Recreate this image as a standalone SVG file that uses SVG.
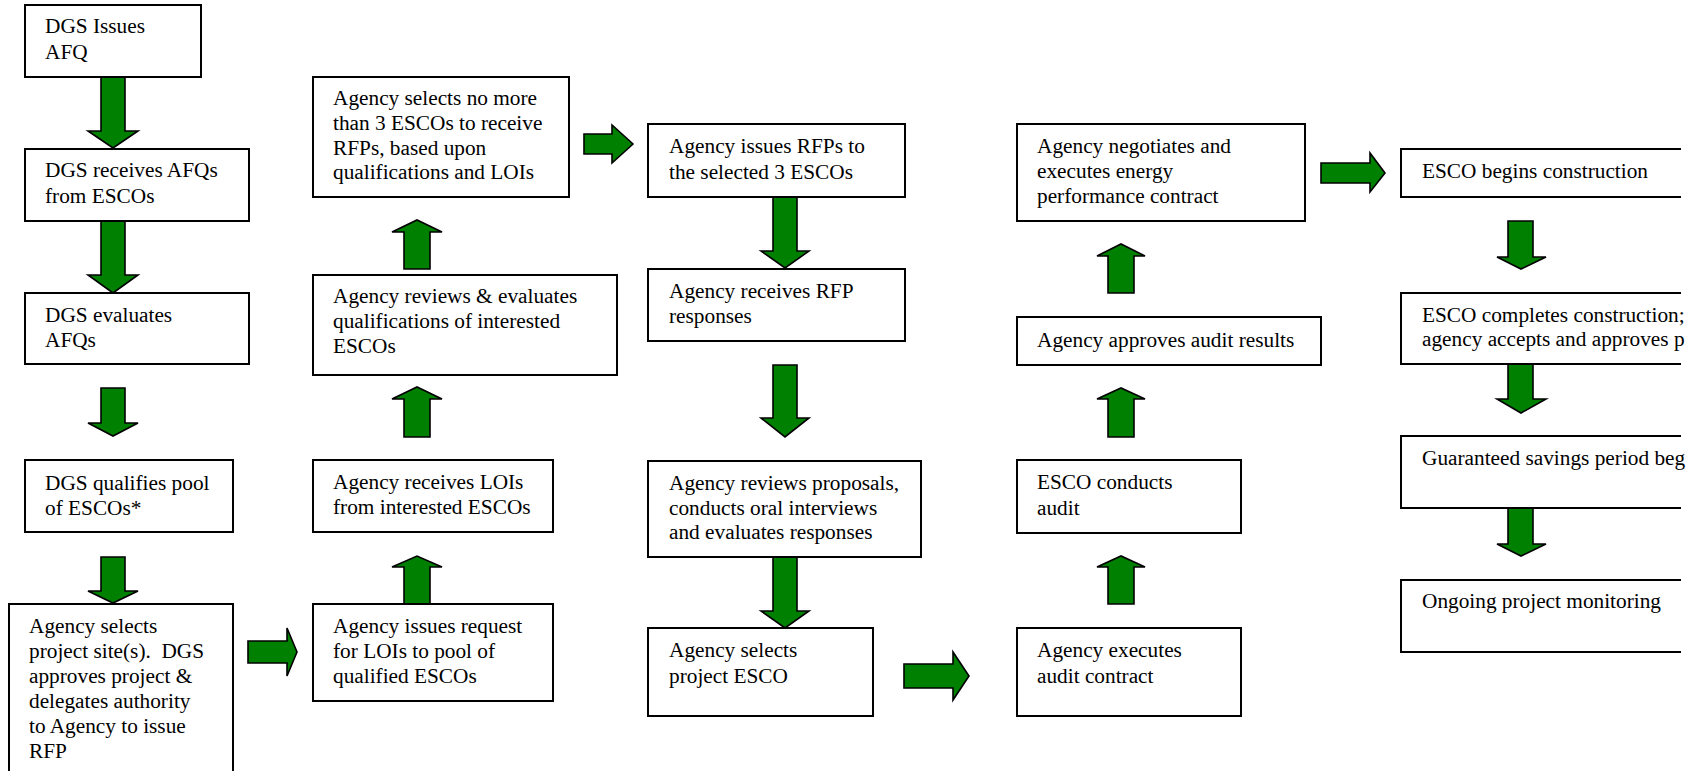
<svg xmlns="http://www.w3.org/2000/svg" width="1704" height="771" viewBox="0 0 1704 771">
<style>
.box{fill:#fff;stroke:#000;stroke-width:2}
.t{font-family:"Liberation Serif","Times New Roman",serif;font-size:21.3px;fill:#000}
.arr{fill:#008000;stroke:#000;stroke-width:1.6;stroke-linejoin:miter}
</style>
<defs>
<clipPath id="cut"><rect x="0" y="0" width="1681" height="771"/></clipPath>
</defs>
<rect x="0" y="0" width="1704" height="771" fill="#fff"/>
<g id="connectors">
<polygon class="arr" points="101,77 125,77 125,131 138,131 113,148 88,131 101,131"/>
<polygon class="arr" points="101,221 125,221 125,275 138,275 113,293 88,275 101,275"/>
<polygon class="arr" points="101,388 125,388 125,423 138,423 113,436 88,423 101,423"/>
<polygon class="arr" points="101,557 125,557 125,591 138,591 113,603 88,591 101,591"/>
<polygon class="arr" points="248,641 287,641 287,628 297,652 287,676 287,663 248,663"/>
<polygon class="arr" points="404,604 430,604 430,567 442,567 417,556 392,567 404,567"/>
<polygon class="arr" points="404,437 430,437 430,399 442,399 417,387 392,399 404,399"/>
<polygon class="arr" points="404,269 430,269 430,232 442,232 417,220 392,232 404,232"/>
<polygon class="arr" points="584,134 612,134 612,125 633,144 612,163 612,154 584,154"/>
<polygon class="arr" points="773,197 797,197 797,251 809,251 785,268 761,251 773,251"/>
<polygon class="arr" points="773,365 797,365 797,418 809,418 785,437 761,418 773,418"/>
<polygon class="arr" points="773,557 797,557 797,611 809,611 785,628 761,611 773,611"/>
<polygon class="arr" points="904,664 953,664 953,652 969,676 953,700 953,688 904,688"/>
<polygon class="arr" points="1108,604 1134,604 1134,567 1145,567 1121,556 1097,567 1108,567"/>
<polygon class="arr" points="1108,437 1134,437 1134,399 1145,399 1121,388 1097,399 1108,399"/>
<polygon class="arr" points="1108,293 1134,293 1134,256 1145,256 1121,244 1097,256 1108,256"/>
<polygon class="arr" points="1321,163 1370,163 1370,153 1385,173 1370,192 1370,183 1321,183"/>
<polygon class="arr" points="1508,221 1533,221 1533,257 1546,257 1521,269 1497,257 1508,257"/>
<polygon class="arr" points="1508,364 1533,364 1533,399 1546,399 1521,413 1497,399 1508,399"/>
<polygon class="arr" points="1508,508 1533,508 1533,544 1546,544 1521,556 1497,544 1508,544"/>
</g>
<g id="n1"><rect class="box" x="25" y="5" width="176" height="72"/><text class="t" x="45" y="33">DGS Issues</text><text class="t" x="45" y="59">AFQ</text></g>
<g id="n2"><rect class="box" x="25" y="149" width="224" height="72"/><text class="t" x="45" y="177">DGS receives AFQs</text><text class="t" x="45" y="203">from ESCOs</text></g>
<g id="n3"><rect class="box" x="25" y="293" width="224" height="71"/><text class="t" x="45" y="322">DGS evaluates</text><text class="t" x="45" y="347">AFQs</text></g>
<g id="n4"><rect class="box" x="25" y="460" width="208" height="72"/><text class="t" x="45" y="490">DGS qualifies pool</text><text class="t" x="45" y="515">of ESCOs*</text></g>
<g id="n5"><rect class="box" x="9" y="604" width="224" height="180"/><text class="t" x="29" y="633">Agency selects</text><text class="t" x="29" y="658" xml:space="preserve">project site(s).  DGS</text><text class="t" x="29" y="683">approves project &amp;</text><text class="t" x="29" y="708">delegates authority</text><text class="t" x="29" y="733">to Agency to issue</text><text class="t" x="29" y="758">RFP</text></g>
<g id="n6"><rect class="box" x="313" y="604" width="240" height="97"/><text class="t" x="333" y="633">Agency issues request</text><text class="t" x="333" y="658">for LOIs to pool of</text><text class="t" x="333" y="683">qualified ESCOs</text></g>
<g id="n7"><rect class="box" x="313" y="460" width="240" height="72"/><text class="t" x="333" y="489">Agency receives LOIs</text><text class="t" x="333" y="514">from interested ESCOs</text></g>
<g id="n8"><rect class="box" x="313" y="275" width="304" height="100"/><text class="t" x="333" y="303">Agency reviews &amp; evaluates</text><text class="t" x="333" y="328">qualifications of interested</text><text class="t" x="333" y="353">ESCOs</text></g>
<g id="n9"><rect class="box" x="313" y="77" width="256" height="120"/><text class="t" x="333" y="105">Agency selects no more</text><text class="t" x="333" y="130">than 3 ESCOs to receive</text><text class="t" x="333" y="155">RFPs, based upon</text><text class="t" x="333" y="179">qualifications and LOIs</text></g>
<g id="n10"><rect class="box" x="648" y="124" width="257" height="73"/><text class="t" x="669" y="153">Agency issues RFPs to</text><text class="t" x="669" y="179">the selected 3 ESCOs</text></g>
<g id="n11"><rect class="box" x="648" y="269" width="257" height="72"/><text class="t" x="669" y="298">Agency receives RFP</text><text class="t" x="669" y="323">responses</text></g>
<g id="n12"><rect class="box" x="648" y="461" width="273" height="96"/><text class="t" x="669" y="490">Agency reviews proposals,</text><text class="t" x="669" y="515">conducts oral interviews</text><text class="t" x="669" y="539">and evaluates responses</text></g>
<g id="n13"><rect class="box" x="648" y="628" width="225" height="88"/><text class="t" x="669" y="657">Agency selects</text><text class="t" x="669" y="683">project ESCO</text></g>
<g id="n14"><rect class="box" x="1017" y="628" width="224" height="88"/><text class="t" x="1037" y="657">Agency executes</text><text class="t" x="1037" y="683">audit contract</text></g>
<g id="n15"><rect class="box" x="1017" y="460" width="224" height="73"/><text class="t" x="1037" y="489">ESCO conducts</text><text class="t" x="1037" y="515">audit</text></g>
<g id="n16"><rect class="box" x="1017" y="317" width="304" height="48"/><text class="t" x="1037" y="347">Agency approves audit results</text></g>
<g id="n17"><rect class="box" x="1017" y="124" width="288" height="97"/><text class="t" x="1037" y="153">Agency negotiates and</text><text class="t" x="1037" y="178">executes energy</text><text class="t" x="1037" y="203">performance contract</text></g>
<g id="n18"><rect class="box" x="1401" y="149" width="320" height="48" clip-path="url(#cut)"/><text class="t" x="1422" y="178">ESCO begins construction</text></g>
<g id="n19"><rect class="box" x="1401" y="293" width="320" height="71" clip-path="url(#cut)"/><text class="t" x="1422" y="322">ESCO completes construction;</text><text class="t" x="1422" y="346">agency accepts and approves p</text></g>
<g id="n20"><rect class="box" x="1401" y="436" width="320" height="72" clip-path="url(#cut)"/><text class="t" x="1422" y="465">Guaranteed savings period beg</text></g>
<g id="n21"><rect class="box" x="1401" y="580" width="320" height="72" clip-path="url(#cut)"/><text class="t" x="1422" y="608">Ongoing project monitoring</text></g>
</svg>
